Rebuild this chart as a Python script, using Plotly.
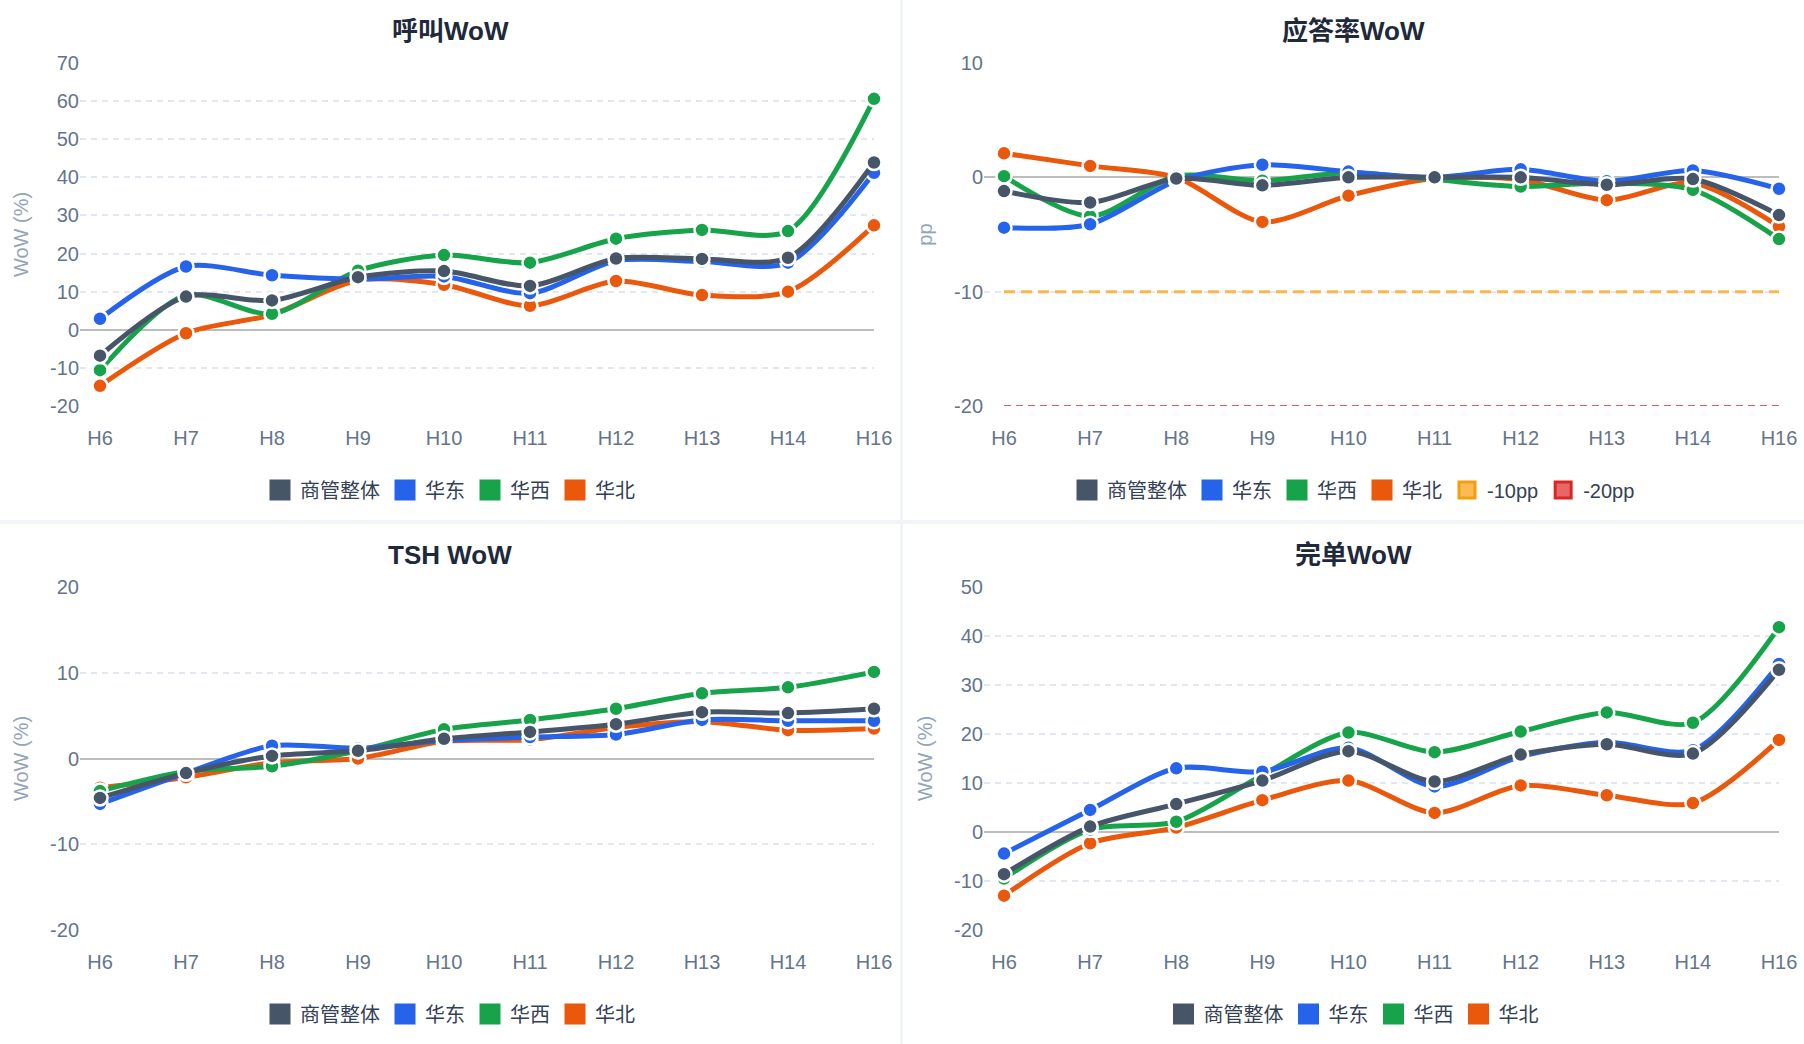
import plotly.graph_objects as go

# ---------------- data ----------------
hours = ["H6", "H7", "H8", "H9", "H10", "H11", "H12", "H13", "H14", "H16"]
series_names = ["商管整体", "华东", "华西", "华北"]
series_colors = ["#475569", "#2563eb", "#16a34a", "#ea580c"]

call_overall = [-6.8, 8.7, 7.7, 13.8, 15.4, 11.5, 18.7, 18.6, 18.9, 43.9]
call_east = [2.9, 16.6, 14.3, 13.3, 14.0, 9.6, 18.1, 17.9, 17.6, 41.2]
call_west = [-10.6, 9.1, 4.2, 15.5, 19.6, 17.6, 23.9, 26.2, 25.9, 60.6]
call_north = [-14.7, -0.9, 4.0, 13.0, 11.8, 6.3, 12.8, 9.1, 10.0, 27.4]

ans_overall = [-1.2, -2.2, -0.1, -0.7, 0.0, 0.0, 0.0, -0.65, -0.15, -3.3]
ans_east = [-4.4, -4.1, -0.3, 1.1, 0.5, 0.0, 0.7, -0.35, 0.6, -1.0]
ans_west = [0.1, -3.4, 0.1, -0.3, 0.4, -0.2, -0.8, -0.5, -1.1, -5.4]
ans_north = [2.1, 1.0, 0.0, -3.9, -1.6, -0.1, -0.2, -2.0, -0.5, -4.3]
ans_thresholds = [-10, -20]
ans_threshold_names = ["-10pp", "-20pp"]

tsh_overall = [-4.6, -1.7, 0.3, 0.9, 2.3, 3.1, 4.0, 5.4, 5.3, 5.8]
tsh_east = [-5.3, -1.7, 1.5, 1.2, 2.1, 2.5, 2.8, 4.5, 4.4, 4.4]
tsh_west = [-3.8, -1.5, -0.9, 0.9, 3.4, 4.5, 5.8, 7.6, 8.3, 10.1]
tsh_north = [-3.4, -2.2, -0.5, 0.0, 2.0, 2.2, 3.6, 4.3, 3.3, 3.5]

done_overall = [-8.6, 1.1, 5.7, 10.5, 16.5, 10.3, 15.8, 17.9, 16.0, 33.1]
done_east = [-4.4, 4.5, 13.0, 12.3, 17.2, 9.3, 15.4, 18.3, 16.7, 34.3]
done_west = [-9.5, 0.5, 2.1, 11.6, 20.3, 16.3, 20.5, 24.4, 22.3, 41.8]
done_north = [-13.0, -2.3, 0.9, 6.5, 10.5, 3.9, 9.5, 7.5, 5.9, 18.8]

panel_titles = ["呼叫WoW", "应答率WoW", "TSH WoW", "完单WoW"]
panel_ytitles = ["WoW (%)", "pp", "WoW (%)", "WoW (%)"]
panel_yticks = [
    [-20, -10, 0, 10, 20, 30, 40, 50, 60, 70],
    [-20, -10, 0, 10],
    [-20, -10, 0, 10, 20],
    [-20, -10, 0, 10, 20, 30, 40, 50],
]
panel_yticklabels = [
    ["-20", "-10", "0", "10", "20", "30", "40", "50", "60", "70"],
    ["-20", "-10", "0", "10"],
    ["-20", "-10", "0", "10", "20"],
    ["-20", "-10", "0", "10", "20", "30", "40", "50"],
]

# ---------------- layout geometry (pixels) ----------------
W, H = 1804, 1044
FONT = "Liberation Sans, Arial, Noto Sans CJK SC, sans-serif"
TFONT = "Liberation Sans, Arial, Noto Sans CJK SC, sans-serif"
cards = [(0, 0, 900, 520), (903, 0, 1804, 520), (0, 524, 900, 1044), (903, 524, 1804, 1044)]
plots = [(80, 63, 874, 406), (984, 63, 1779, 406), (80, 587, 874, 930), (984, 587, 1779, 930)]


def fx(px):
    return px / W


def fy(py):
    return 1 - py / H


panel_data = [
    [call_overall, call_east, call_west, call_north],
    [ans_overall, ans_east, ans_west, ans_north],
    [tsh_overall, tsh_east, tsh_west, tsh_north],
    [done_overall, done_east, done_west, done_north],
]

fig = go.Figure()
draw_order = [3, 2, 1, 0]  # 商管整体 on top

for p in range(4):
    xa = "x" if p == 0 else f"x{p+1}"
    ya = "y" if p == 0 else f"y{p+1}"
    lg = "legend" if p == 0 else f"legend{p+1}"

    # threshold reference lines (panel 2)
    if p == 1:
        th_styles = [dict(color="#f8b84e", width=3, dash="11px,6px"),
                     dict(color="#e65c5c", width=2, dash="7px,5px")]
        for val, st in zip(ans_thresholds, th_styles):
            fig.add_trace(go.Scatter(
                x=hours, y=[val] * len(hours), mode="lines", line=st,
                xaxis=xa, yaxis=ya, showlegend=False, hoverinfo="skip",
                cliponaxis=False))

    for i in draw_order:
        fig.add_trace(go.Scatter(
            x=hours, y=panel_data[p][i], name=series_names[i],
            mode="lines+markers",
            line=dict(color=series_colors[i], width=5, shape="spline", smoothing=0.8),
            marker=dict(size=15, color=series_colors[i], line=dict(color="white", width=2.5)),
            xaxis=xa, yaxis=ya, showlegend=False, cliponaxis=False))

    # legend entries (square swatches)
    for i in range(4):
        fig.add_trace(go.Scatter(
            x=[None], y=[None], name=series_names[i], mode="markers",
            marker=dict(symbol="square", size=16, color=series_colors[i],
                        line=dict(color=series_colors[i], width=5)),
            xaxis=xa, yaxis=ya, legend=lg, showlegend=True, hoverinfo="skip"))
    if p == 1:
        sw = [("#f9bc55", "#f59e0b"), ("#e86666", "#dc2626")]
        for nm, (fc, lc) in zip(ans_threshold_names, sw):
            fig.add_trace(go.Scatter(
                x=[None], y=[None], name=nm, mode="markers",
                marker=dict(symbol="square", size=17, color=fc, line=dict(color=lc, width=3)),
                xaxis=xa, yaxis=ya, legend=lg, showlegend=True, hoverinfo="skip"))

layout = dict(
    width=W, height=H, margin=dict(l=0, r=0, t=0, b=0, pad=0, autoexpand=False),
    paper_bgcolor="#f1f5f9", plot_bgcolor="rgba(0,0,0,0)",
    font=dict(family=FONT, color="#64748b"),
    shapes=[], annotations=[],
)

for p in range(4):
    x0, y0, x1, y1 = plots[p]
    sx = "" if p == 0 else str(p + 1)
    layout["xaxis" + sx] = dict(
        type="category", domain=[fx(x0), fx(x1)], anchor="y" + sx,
        range=[-0.2326, 9], showgrid=False, showline=False, zeroline=False,
        ticks="", tickfont=dict(size=20, color="#64748b", family=FONT),
        ticklabelstandoff=18, automargin=False, fixedrange=True)
    layout["yaxis" + sx] = dict(
        domain=[fy(y1), fy(y0)], anchor="x" + sx, range=panel_yticks[p][0:1] + panel_yticks[p][-1:],
        tickmode="array", tickvals=panel_yticks[p], ticktext=panel_yticklabels[p],
        showgrid=True, gridcolor="#e2e8f0", gridwidth=2,
        griddash="6px,5px", zeroline=True, zerolinecolor="#bdbdbd", zerolinewidth=2,
        showline=False, ticks="", tickfont=dict(size=20, color="#64748b", family=FONT),
        title=dict(text=panel_ytitles[p], font=dict(size=20, color="#94a3b8", family=FONT),
                   standoff=16),
        automargin=False, fixedrange=True)
    cx0, cy0, cx1, cy1 = cards[p]
    layout["shapes"].append(dict(
        type="rect", xref="paper", yref="paper", x0=fx(cx0), x1=fx(cx1),
        y0=fy(cy1), y1=fy(cy0), fillcolor="white", line=dict(width=0), layer="below"))
    ccx = (cx0 + cx1) / 2
    layout["annotations"].append(dict(
        text="<b>" + panel_titles[p] + "</b>", xref="paper", yref="paper",
        x=fx(ccx), y=fy(cy0 + 31), xanchor="center", yanchor="middle", showarrow=False,
        font=dict(size=26, color="#1e293b", family=TFONT)))
    lkey = "legend" if p == 0 else f"legend{p+1}"
    layout[lkey] = dict(
        orientation="h", xref="container", yref="container",
        x=fx(ccx), xanchor="center", y=fy(cy0 + 490), yanchor="middle",
        font=dict(size=20, color="#334155", family=FONT), bgcolor="rgba(0,0,0,0)",
        itemclick=False, itemdoubleclick=False, traceorder="normal")

fig.update_layout(**layout)

fig.write_html(
    "out.html",
    config={"displayModeBar": False, "responsive": False},
    post_script="document.body.style.margin='0';document.body.style.overflow='hidden';",
)
